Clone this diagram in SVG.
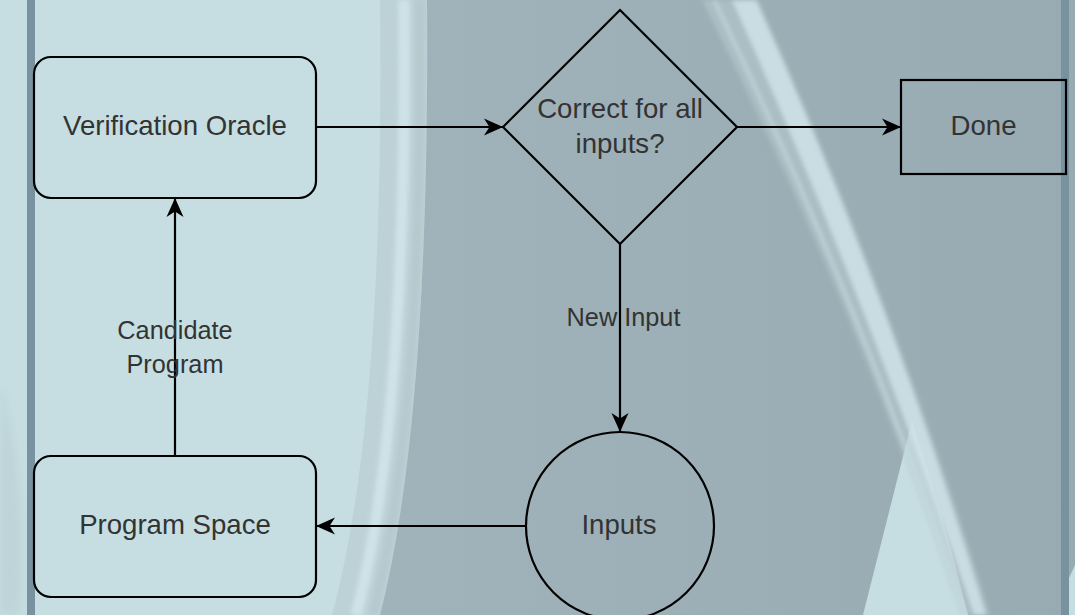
<svg xmlns="http://www.w3.org/2000/svg" width="1075" height="615" viewBox="0 0 1075 615">
  <style>
    .node { fill: none; stroke: #000000; stroke-width: 2.2; }
    .edge { fill: none; stroke: #000000; stroke-width: 2.2; }
    .t { font-family: "Liberation Sans", Arial, Helvetica, sans-serif; fill: #333333; text-anchor: middle; }
    .nt { font-size: 27.6px; }
    .lt { font-size: 25.3px; }
  </style>
  <defs>
    <marker id="arrow" viewBox="-20 -10 21 20" refX="0" refY="0" markerWidth="21" markerHeight="20" markerUnits="userSpaceOnUse" orient="auto">
      <path d="M0,0 L-19,-8.5 L-13.5,0 L-19,8.5 Z" fill="#000000"/>
    </marker>
    <linearGradient id="darkGrad" x1="0" y1="0" x2="1" y2="0">
      <stop offset="0" stop-color="#a1b3ba"/>
      <stop offset="0.5" stop-color="#9dafb6"/>
      <stop offset="1" stop-color="#98aab2"/>
    </linearGradient>
    <filter id="soft" x="-0.3" y="-0.05" width="1.6" height="1.1">
      <feGaussianBlur stdDeviation="2.2"/>
    </filter>
    <filter id="softer" x="-0.3" y="-0.05" width="1.6" height="1.1">
      <feGaussianBlur stdDeviation="4"/>
    </filter>
  </defs>

  <g id="background">
    <rect x="0" y="0" width="1075" height="615" fill="#c6dee2"/>
    <!-- faint arc bottom-left -->
    <path d="M0,380 Q28,480 20,615 L0,615 Z" fill="#b8cdd2" opacity="0.6" filter="url(#softer)"/>
    <!-- band next to dark region -->
    <path d="M380,0 L427,0 Q430,420 380,615 L332,615 Q385,420 380,0 Z" fill="#bdd2d7"/>
    <path d="M404,0 Q408,420 356,615" fill="none" stroke="#d2e6ea" stroke-width="11" opacity="0.85" filter="url(#soft)"/>
    <path d="M420,0 Q424,420 373,615" fill="none" stroke="#b2c6cb" stroke-width="10" opacity="0.7" filter="url(#soft)"/>
    <!-- dark region -->
    <path d="M427,0 L1075,0 L1075,615 L380,615 Q430,420 427,0 Z" fill="url(#darkGrad)"/>
    <!-- light triangle bottom-right -->
    <path d="M912,421 L863,615 L968,615 Q945,520 912,421 Z" fill="#c6dee2"/>
    <!-- small light corner bottom-right -->
    <path d="M1069,578 L1075,565 L1075,615 L1069,615 Z" fill="#c6dee2"/>
    <!-- diagonal streak -->
    <g filter="url(#soft)">
      <path d="M702,0 L758,0 Q896,307 990,615 L960,615 Q857,307 702,0 Z" fill="#b6cacf" opacity="0.55"/>
      <path d="M714,0 Q862,307 965,615" fill="none" stroke="#c8dde2" stroke-width="3" opacity="0.75"/>
      <path d="M732,0 L756,0 Q894,307 986,615 L974,615 Q870,307 732,0 Z" fill="#d1e5ea" opacity="0.8"/>
    </g>
    <!-- vertical stripes -->
    <rect x="27" y="0" width="8" height="615" fill="#7892a0"/>
    <rect x="1061" y="0" width="8" height="615" fill="#7892a0"/>
  </g>

  <g id="connectors">
    <path class="edge" d="M316,127 L503,127" marker-end="url(#arrow)"/>
    <path class="edge" d="M737,127 L901,127" marker-end="url(#arrow)"/>
    <path class="edge" d="M620,244 L620,432" marker-end="url(#arrow)"/>
    <path class="edge" d="M526,526 L316,526" marker-end="url(#arrow)"/>
    <path class="edge" d="M175,456 L175,198" marker-end="url(#arrow)"/>
    <text class="t lt" x="623.5" y="326">New Input</text>
    <text class="t lt" x="175" y="339">Candidate</text>
    <text class="t lt" x="175" y="372.5">Program</text>
  </g>

  <g id="verification-oracle">
    <rect class="node" x="34" y="57" width="282" height="141" rx="17" ry="17"/>
    <text class="t nt" x="175" y="135">Verification Oracle</text>
  </g>

  <g id="decision">
    <polygon class="node" points="620,10 737,127 620,244 503,127"/>
    <text class="t nt" x="620" y="118">Correct for all</text>
    <text class="t nt" x="620" y="153">inputs?</text>
  </g>

  <g id="done">
    <rect class="node" x="901" y="80" width="165" height="94"/>
    <text class="t nt" x="983.5" y="135">Done</text>
  </g>

  <g id="inputs">
    <circle class="node" cx="620" cy="526" r="94"/>
    <text class="t nt" x="619" y="534">Inputs</text>
  </g>

  <g id="program-space">
    <rect class="node" x="34" y="456" width="282" height="141" rx="17" ry="17"/>
    <text class="t nt" x="175" y="534">Program Space</text>
  </g>
</svg>
